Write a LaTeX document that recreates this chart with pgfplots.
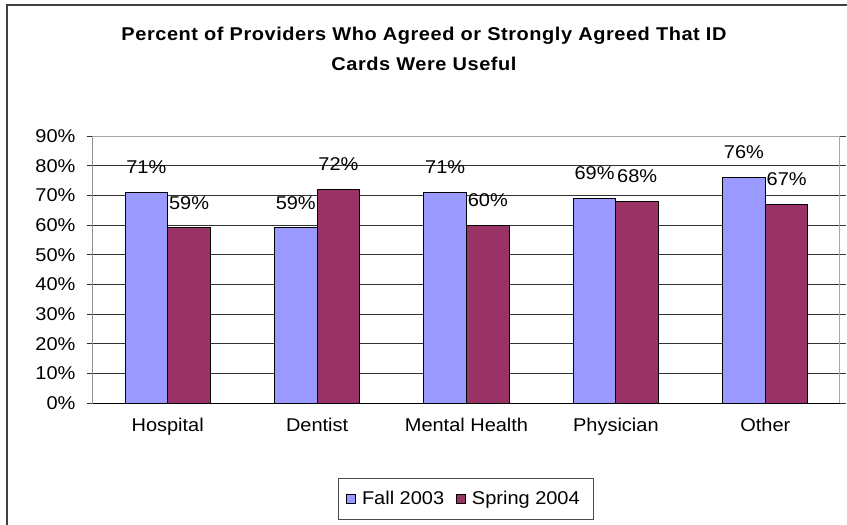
\documentclass[border=0pt]{standalone}
\usepackage{fontspec}
\setmainfont{Liberation Sans}[FakeStretch=1.08]
\newfontfamily\titlefont{Liberation Sans}[FakeStretch=1.08, LetterSpace=3]
\usepackage{pgfplots}
\pgfplotsset{compat=1.18}
\definecolor{fallc}{HTML}{9999FF}
\definecolor{springc}{HTML}{993366}
\newcommand{\lbl}{\fontsize{18.5}{22}\selectfont}
\begin{document}
\begin{tikzpicture}
\useasboundingbox (0pt,0pt) rectangle (847pt,-525pt);
\draw[black!75, line width=1.5pt] (7pt,-526pt) -- (7pt,-5pt) -- (848pt,-5pt);
\node[font=\titlefont\bfseries\fontsize{18.5}{30}\selectfont, align=center, anchor=base] at (424pt,-70pt) {Percent of Providers Who Agreed or Strongly Agreed That ID\\Cards Were Useful};
\begin{axis}[
  at={(93pt,-403pt)}, anchor=south west,
  scale only axis, width=747pt, height=267pt,
  xmin=-0.5, xmax=4.5, ymin=0, ymax=90,
  /pgf/number format/assume math mode=true,
  ybar=0pt, bar width=0.2857,
  xtick={0,1,2,3,4},
  xticklabels={Hospital,Dentist,Mental Health,Physician,Other},
  xtick style={draw=none},
  extra x ticks={-0.5,0.5,1.5,2.5,3.5,4.5},
  extra x tick labels={},
  extra x tick style={tick align=outside, major tick length=6pt, tick style={draw=black!70, line width=0.8pt}, grid=none},
  ytick={0,10,...,90},
  yticklabels={0\%,10\%,20\%,30\%,40\%,50\%,60\%,70\%,80\%,90\%},
  ytick style={draw=black!80, line width=0.8pt},
  tick align=outside, major tick length=6pt,
  ymajorgrids, grid style={black!80, line width=0.8pt},
  axis line style={gray!70, line width=1pt},
  tick label style={font=\lbl},
  xticklabel style={yshift=-6pt},
  yticklabel style={xshift=-8pt},
  nodes near coords={\pgfmathprintnumber{\pgfplotspointmeta}\%},
  every node near coord/.append style={font=\lbl, anchor=center, yshift=25pt, black},
  legend style={at={(0.4993,-0.358)}, anchor=center, legend columns=2, draw=black!70, line width=0.8pt,
    font=\lbl, inner xsep=8pt, inner ysep=11pt, nodes={inner xsep=6pt},
    /tikz/every even column/.append style={column sep=6pt}},
  legend image code/.code={\draw[#1, line width=0.8pt] (0pt,-4.5pt) rectangle (9pt,4.5pt);},
]
\addplot[fill=fallc, draw=black, line width=1pt] coordinates {(0,71) (1,59) (2,71) (3,69) (4,76)};
\addplot[fill=springc, draw=black, line width=1pt] coordinates {(0,59) (1,72) (2,60) (3,68) (4,67)};
\legend{Fall 2003, Spring 2004}
\draw[black, line width=1pt] (rel axis cs:0,1) -- (rel axis cs:0,0) -- (rel axis cs:1,0);
\end{axis}
\end{tikzpicture}
\end{document}
